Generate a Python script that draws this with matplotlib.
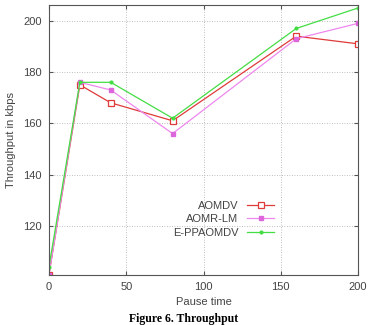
import matplotlib
matplotlib.use("Agg")
import matplotlib.pyplot as plt

pause_time = [0, 20, 40, 80, 160, 200]
aomdv = [101, 175, 168, 161, 194, 191]
aomr_lm = [101, 176, 173, 156, 193, 199]
e_ppaomdv = [104, 176, 176, 162, 197, 205]

x_ticks = [0, 50, 100, 150, 200]
y_ticks = [120, 140, 160, 180, 200]

plt.rcParams['font.family'] = ['Liberation Sans', 'DejaVu Sans']

fig = plt.figure(figsize=(3.68, 3.25), dpi=100)
ax = fig.add_axes([0.133, 0.155, 0.840, 0.830])

ax.plot(pause_time, aomdv, color='#e03a3a', linewidth=0.9, marker='s',
        markersize=4, markerfacecolor='white', markeredgecolor='#e03a3a',
        markeredgewidth=0.9, label='AOMDV')
ax.plot(pause_time, aomr_lm, color='#ee88ee', linewidth=0.9, marker='s',
        markersize=3.5, markerfacecolor='#dd66dd', markeredgecolor='#dd66dd',
        label='AOMR-LM')
ax.plot(pause_time, e_ppaomdv, color='#44dd44', linewidth=0.9, marker='o',
        markersize=2, markerfacecolor='#44dd44', markeredgecolor='#44dd44',
        label='E-PPAOMDV')

ax.set_xlim(0, 200)
ax.set_ylim(101, 206.2)
ax.set_xticks(x_ticks)
ax.set_yticks(y_ticks)
ax.grid(True, linestyle=(0, (1, 2)), color='#aaaaaa', linewidth=0.6)
ax.tick_params(direction='in', top=True, right=True, labelsize=8,
               labelcolor='#444444', color='#555555', length=3, pad=5)
for s in ax.spines.values():
    s.set_color('#555555')
    s.set_linewidth(0.8)

ax.set_xlabel('Pause time', fontsize=8, color='#444444', labelpad=4)
ax.set_ylabel('Throughput in kbps', fontsize=8, color='#444444', labelpad=5)

leg = ax.legend(loc='lower right', bbox_to_anchor=(0.76, 0.10), frameon=False,
                markerfirst=False, fontsize=8, handlelength=2.4,
                labelspacing=0.3, handletextpad=0.8)
for t in leg.get_texts():
    t.set_color('#444444')

fig.text(0.5, 0.0, 'Figure 6. Throughput', ha='center', va='bottom',
         fontsize=8.5, fontweight='bold', family=['Liberation Serif', 'DejaVu Serif'])

fig.savefig('out.png', dpi=100)
